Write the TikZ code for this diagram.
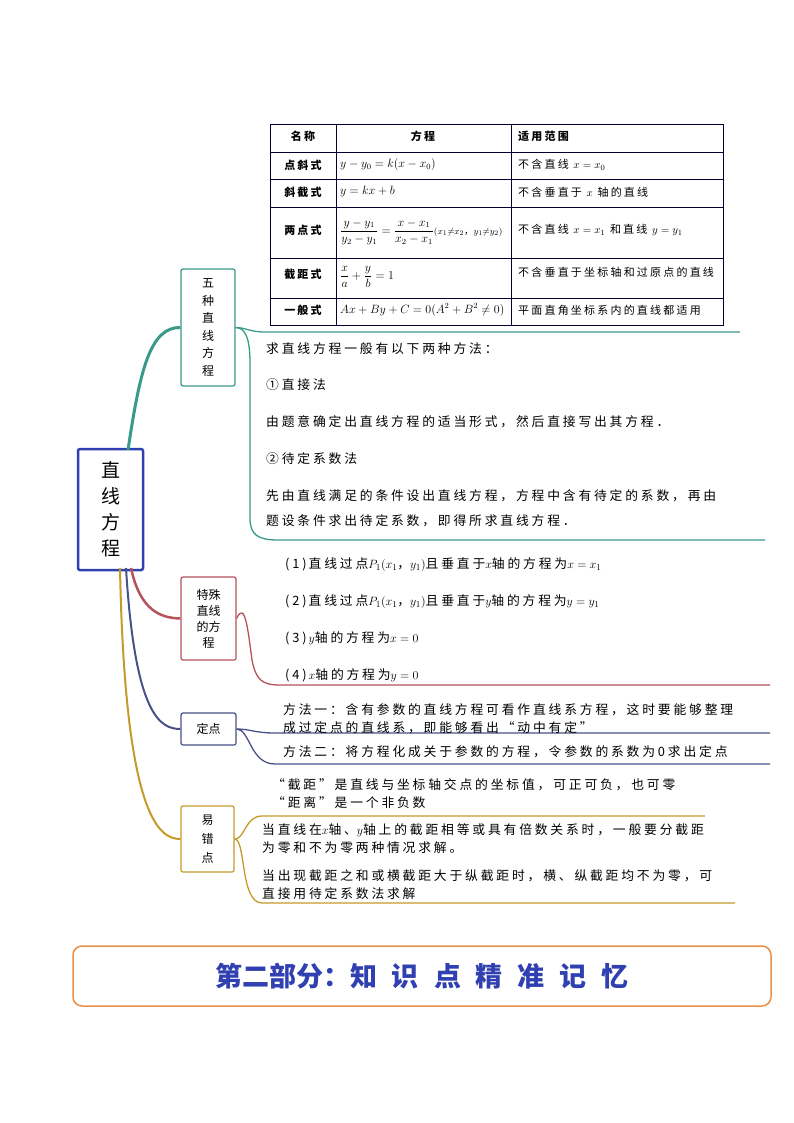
\documentclass[tikz,border=0pt]{standalone}
\usepackage{fontspec}
\usepackage{amsmath}
\setmainfont{Noto Sans CJK SC}
\newfontfamily\bodyf[LetterSpace=22]{Noto Sans CJK SC}
\newfontfamily\tabf[LetterSpace=20]{Noto Sans CJK SC}
\definecolor{cteal}{HTML}{3A9A8A}
\definecolor{cred}{HTML}{B5525A}
\definecolor{cpur}{HTML}{4A5088}
\definecolor{cgold}{HTML}{C49A2A}
\definecolor{cblue}{HTML}{3040B0}
\definecolor{corange}{HTML}{E8904A}
\tikzset{
 box/.style={draw=#1,line width=1.2pt,rounded corners=2pt,fill=white,align=center,font=\fontsize{12}{16}\selectfont},
 txt/.style={anchor=west,font=\bodyf\fontsize{12.8}{18}\selectfont,inner sep=0pt,align=left},
 tt/.style={anchor=west,font=\tabf\fontsize{11}{13}\selectfont,inner sep=0pt},
 th/.style={font=\tabf\fontsize{11}{13}\selectfont\bfseries,inner sep=0pt}
}
\begin{document}
\begin{tikzpicture}[x=1pt,y=-1pt]
\useasboundingbox (0,0) rectangle (794,1123);
% main
\node[box=cblue,line width=2.5pt,minimum width=65pt,minimum height=121pt,font=\fontsize{19}{26}\selectfont] (main) at (110.5,509.5) {直\\线\\方\\程};
% children
\node[box=cteal,minimum width=54pt,minimum height=117pt,font=\fontsize{12}{17.5}\selectfont] (c1) at (208,327.5) {五\\种\\直\\线\\方\\程};
\node[box=cred,minimum width=55pt,minimum height=83pt] (c2) at (208.5,618.5) {特殊\\直线\\的方\\程};
\node[box=cpur,minimum width=55pt,minimum height=32pt] (c3) at (208.5,729) {定点};
\node[box=cgold,minimum width=53pt,minimum height=66pt,font=\fontsize{12}{19}\selectfont] (c4) at (207.5,839) {易\\错\\点};
% connectors main->children
\draw[cteal,line width=3pt] (128,450) .. controls (140,370) and (150,327) .. (c1.west);
\draw[cred,line width=2.5pt] (131,568) .. controls (140,610) and (160,618) .. (c2.west);
\draw[cpur,line width=2pt] (126,568) .. controls (135,715) and (160,729) .. (c3.west);
\draw[cgold,line width=2pt] (120,568) .. controls (125,820) and (160,839) .. (c4.west);
% table
\begin{scope}[line width=1pt,draw=black!80!blue]
\draw (270,125) rectangle (723,325);
\foreach \y in {153,180,208,258,298} \draw (270,\y) -- (723,\y);
\draw (336,125) -- (336,325); \draw (511,125) -- (511,325);
\end{scope}
\node[th] (h1) at (303,136) {名称};
\node[th] (h2) at (423,136) {方程};
\node[tt,font=\tabf\fontsize{11}{13}\selectfont\bfseries] (h3) at (518,136) {适用范围};
\node[th] (r1) at (303,165) {点斜式};
\node[th] (r2) at (303,192) {斜截式};
\node[th] (r3) at (303,230) {两点式};
\node[th] (r4) at (303,274) {截距式};
\node[th] (r5) at (303,310) {一般式};
\node[tt,font=\fontsize{12}{14}\selectfont] (e1) at (340,165) {$y-y_0=k(x-x_0)$};
\node[tt,font=\fontsize{12}{14}\selectfont] (e2) at (340,192) {$y=kx+b$};
\node[tt,font=\fontsize{12}{14}\selectfont] (e3) at (340,232) {$\dfrac{y-y_1}{y_2-y_1}=\dfrac{x-x_1}{x_2-x_1}$\fontsize{9.5}{10}\selectfont$(x_1{\neq}x_2$，$y_1{\neq}y_2)$};
\node[tt,font=\fontsize{12}{14}\selectfont] (e4) at (340,277) {$\dfrac{x}{a}+\dfrac{y}{b}=1$};
\node[tt,font=\fontsize{12}{14}\selectfont] (e5) at (340,310) {$Ax+By+C=0(A^2+B^2\neq0)$};
\node[tt] (s1) at (518,165) {不含直线 $x=x_0$};
\node[tt] (s2) at (518,192) {不含垂直于 $x$ 轴的直线};
\node[tt] (s3) at (518,230) {不含直线 $x=x_1$ 和直线 $y=y_1$};
\node[tt] (s4) at (518,272) {不含垂直于坐标轴和过原点的直线};
\node[tt] (s5) at (518,310) {平面直角坐标系内的直线都适用};
% teal brace
\coordinate (t1) at (740,332);
\coordinate (t2) at (765,540);
\draw[cteal,line width=1.3pt] (c1.east) .. controls (245,327.5) and (250,332) .. (265,332) -- (t1);
\draw[cteal,line width=1.3pt] (c1.east) .. controls (248,327.5) and (250,345) .. (250,365) -- (250,518) .. controls (250,535) and (258,540) .. (278,540) -- (t2);
\node[txt] (a1) at (266,349) {求直线方程一般有以下两种方法：};
\node[txt] (a2) at (266,385) {①直接法};
\node[txt] (a3) at (266,422) {由题意确定出直线方程的适当形式，然后直接写出其方程．};
\node[txt] (a4) at (266,459) {②待定系数法};
\node[txt] (a5) at (266,496) {先由直线满足的条件设出直线方程，方程中含有待定的系数，再由};
\node[txt] (a6) at (266,521) {题设条件求出待定系数，即得所求直线方程．};
% red
\coordinate (r0) at (770,685);
\draw[cred,line width=1.3pt] (c2.east) .. controls (245,600) and (248,630) .. (252,660) .. controls (256,680) and (262,685) .. (280,685) -- (r0);
\node[txt] (b1) at (285,565) {(1)\,直线过点$P_1(x_1$，$y_1)$且垂直于$x$轴的方程为$x=x_1$};
\node[txt] (b2) at (285,602) {(2)\,直线过点$P_1(x_1$，$y_1)$且垂直于$y$轴的方程为$y=y_1$};
\node[txt] (b3) at (285,638) {(3)\,$y$轴的方程为$x=0$};
\node[txt] (b4) at (285,675) {(4)\,$x$轴的方程为$y=0$};
% purple
\coordinate (p1) at (770,733);
\coordinate (p2) at (770,764);
\draw[cpur,line width=1.3pt] (c3.east) .. controls (250,729) and (255,733) .. (275,733) -- (p1);
\draw[cpur,line width=1.3pt] (c3.east) .. controls (250,729) and (250,764) .. (275,764) -- (p2);
\node[txt] (d1) at (283,719) {方法一：含有参数的直线方程可看作直线系方程，这时要能够整理\\成过定点的直线系，即能够看出“动中有定”};
\node[txt] (d2) at (283,752) {方法二：将方程化成关于参数的方程，令参数的系数为0求出定点};
% gold
\coordinate (g1) at (705,816);
\coordinate (g2) at (735,903);
\draw[cgold,line width=1.3pt] (c4.east) .. controls (245,839) and (245,816) .. (262,816) -- (g1);
\draw[cgold,line width=1.3pt] (c4.east) .. controls (246,839) and (240,903) .. (262,903) -- (g2);
\node[txt] (f1) at (272,794) {“截距”是直线与坐标轴交点的坐标值，可正可负，也可零\\“距离”是一个非负数};
\node[txt] (f2) at (262,839) {当直线在$x$轴、$y$轴上的截距相等或具有倍数关系时，一般要分截距\\为零和不为零两种情况求解。};
\node[txt] (f3) at (262,885) {当出现截距之和或横截距大于纵截距时，横、纵截距均不为零，可\\直接用待定系数法求解};
% banner
\node[draw=corange,line width=1.5pt,rounded corners=9pt,minimum width=698pt,minimum height=60pt,text=cblue,font=\fontsize{27}{30}\selectfont\bfseries] (ban) at (422,976) {第二部分：知\hspace{15pt}识\hspace{15pt}点\hspace{15pt}精\hspace{15pt}准\hspace{15pt}记\hspace{15pt}忆};
\end{tikzpicture}
\end{document}
